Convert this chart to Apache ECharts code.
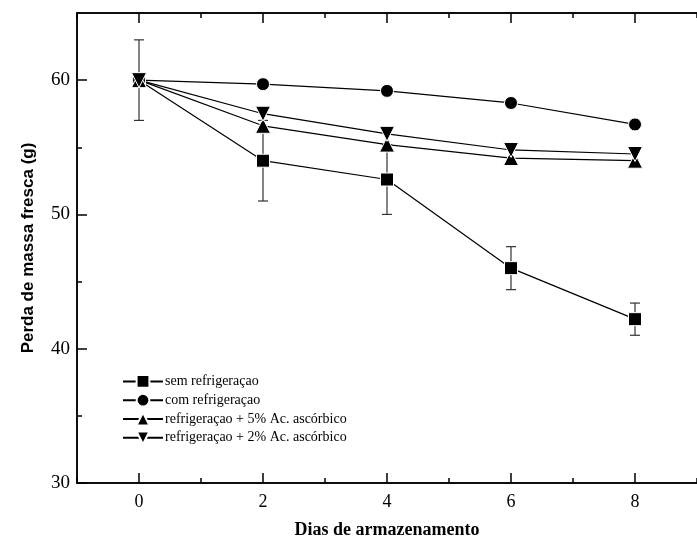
<!DOCTYPE html>
<html>
<head>
<meta charset="utf-8">
<script src="https://cdn.jsdelivr.net/npm/echarts@6/dist/echarts.min.js"></script>
<style>
  html, body { margin: 0; padding: 0; background: #fff; }
  #chart { width: 697px; height: 547px; }
</style>
</head>
<body>
<div id="chart"></div>
<script>
const days = [0, 2, 4, 6, 8]
const semRefrig = [60, 54, 52.6, 46, 42.2]
const semRefrigErr = [3, 3, 2.6, 1.6, 1.2]
const comRefrig = [60, 59.7, 59.2, 58.3, 56.7]
const refrig5 = [60, 56.6, 55.2, 54.2, 54.0]
const refrig2 = [60, 57.5, 56.0, 54.8, 54.5]
const seriesNames = [
  'sem refrigeraçao',
  'com refrigeraçao',
  'refrigeraçao + 5% Ac. ascórbico',
  'refrigeraçao + 2% Ac. ascórbico',
]
const xMajor = [0, 2, 4, 6, 8]
const xMinor = [-1, 1, 3, 5, 7, 9]
const yMajor = [30, 40, 50, 60]
const yMinor = [35, 45, 55]

const serif = 'Liberation Serif'
const downTriangle = 'path://M0,0 L10,0 L5,9 Z'

const chart = echarts.init(document.getElementById('chart'))

const pairs = (ys) => days.map((d, i) => [d, ys[i]])

const lineSeries = (name, ys, symbol, size) => ({
  name,
  type: 'line',
  data: pairs(ys),
  symbol,
  symbolSize: size,
  showSymbol: true,
  lineStyle: { color: '#000', width: 1.2 },
  itemStyle: { color: '#000', borderColor: '#fff', borderWidth: 1 },
  z: 3,
})

const xAxisBase = (position, ticks, len, labels) => ({
  type: 'value',
  position,
  min: -1,
  max: 9,
  axisLine: { show: true, onZero: false, lineStyle: { color: '#000', width: 1.5 } },
  splitLine: { show: false },
  axisTick: { show: true, inside: true, length: len, customValues: ticks, lineStyle: { color: '#000', width: 1.5 } },
  axisLabel: labels
    ? { show: true, customValues: ticks, color: '#000', fontFamily: serif, fontSize: 18, margin: 10 }
    : { show: false },
})

const yAxisBase = (ticks, len, labels) => ({
  type: 'value',
  position: 'left',
  min: 30,
  max: 65,
  axisLine: { show: true, onZero: false, lineStyle: { color: '#000', width: 1.5 } },
  splitLine: { show: false },
  axisTick: { show: true, inside: true, length: len, customValues: ticks, lineStyle: { color: '#000', width: 1.5 } },
  axisLabel: labels
    ? { show: true, customValues: ticks, color: '#000', fontFamily: serif, fontSize: 19, margin: 7 }
    : { show: false },
})

chart.setOption({
  backgroundColor: '#fff',
  animation: false,
  grid: { left: 77, top: 13, right: -10, bottom: 64 },
  legend: {
    data: seriesNames,
    orient: 'vertical',
    left: 117,
    top: 369,
    itemWidth: 40,
    itemHeight: 16,
    itemGap: 4,
    textStyle: { color: '#000', fontFamily: serif, fontSize: 14, padding: [0, 0, 0, -3] },
  },
  xAxis: [
    Object.assign(xAxisBase('bottom', xMajor, 10, true), {
      name: 'Dias de armazenamento',
      nameLocation: 'middle',
      nameGap: 38,
      nameTextStyle: { color: '#000', fontFamily: serif, fontSize: 18, fontWeight: 'bold' },
    }),
    xAxisBase('bottom', xMinor, 5, false),
    xAxisBase('top', xMajor, 10, false),
    xAxisBase('top', xMinor, 5, false),
  ],
  yAxis: [
    Object.assign(yAxisBase(yMajor, 10, true), {
      name: 'Perda de massa fresca (g)',
      nameLocation: 'middle',
      nameGap: 40,
      nameTextStyle: { color: '#000', fontFamily: 'Liberation Sans', fontSize: 17, fontWeight: 'bold' },
    }),
    yAxisBase(yMinor, 5, false),
  ],
  series: [
    {
      name: 'err',
      type: 'custom',
      data: days.map((d, i) => [d, semRefrig[i] - semRefrigErr[i], semRefrig[i] + semRefrigErr[i]]),
      z: 1,
      silent: true,
      renderItem: (params, api) => {
        const lo = api.coord([api.value(0), api.value(1)])
        const hi = api.coord([api.value(0), api.value(2)])
        const w = 5
        const style = { stroke: '#333', lineWidth: 1.2 }
        return {
          type: 'group',
          children: [
            { type: 'line', shape: { x1: lo[0], y1: lo[1], x2: hi[0], y2: hi[1] }, style },
            { type: 'line', shape: { x1: lo[0] - w, y1: lo[1], x2: lo[0] + w, y2: lo[1] }, style },
            { type: 'line', shape: { x1: hi[0] - w, y1: hi[1], x2: hi[0] + w, y2: hi[1] }, style },
          ],
        }
      },
    },
    lineSeries(seriesNames[0], semRefrig, 'rect', 13),
    lineSeries(seriesNames[1], comRefrig, 'circle', 13),
    lineSeries(seriesNames[2], refrig5, 'triangle', 15),
    lineSeries(seriesNames[3], refrig2, downTriangle, 15),
  ],
})
</script>
</body>
</html>
